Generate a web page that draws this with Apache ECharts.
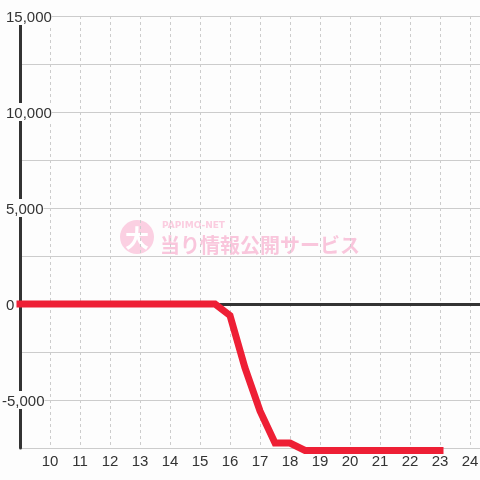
<!DOCTYPE html>
<html>
<head>
<meta charset="utf-8">
<script src="https://cdn.jsdelivr.net/npm/echarts@6/dist/echarts.min.js"></script>
<style>
  html, body { margin: 0; padding: 0; background: #fdfdfd; overflow: hidden; }
  #chart { width: 480px; height: 480px; display: block; }
</style>
</head>
<body>
<div id="chart"></div>
<script>
// 時刻 (30分刻み)
var hours = [9, 9.5, 10, 10.5, 11, 11.5, 12, 12.5, 13, 13.5, 14, 14.5, 15, 15.5,
  16, 16.5, 17, 17.5, 18, 18.5, 19, 19.5, 20, 20.5, 21, 21.5, 22, 22.5, 23]
// 差枚
var values = [0, 0, 0, 0, 0, 0, 0, 0, 0, 0, 0, 0, 0, 0,
  -600, -3330, -5570, -7240, -7240, -7630, -7630, -7630, -7630, -7630, -7630, -7630, -7630, -7630, -7630]
var yLabelStep = 5000
var wmSub = 'PAPIMO-NET'
var wmMain = '当り情報公開サービス'

var chart = echarts.init(document.getElementById('chart'))

var xMin = 9
var xMax = 9 + 460 / 30

chart.setOption({
  backgroundColor: '#fdfdfd',
  animation: false,
  textStyle: { fontFamily: 'Liberation Sans, Arial, sans-serif' },
  grid: { left: 20, right: 0, top: 16, bottom: 32, containLabel: false, outerBoundsMode: 'none' },
  xAxis: [{
    type: 'value',
    min: xMin,
    max: xMax,
    interval: 1,
    axisLine: { show: false, onZero: false },
    axisTick: { show: false },
    axisLabel: {
      color: '#333',
      fontSize: 15,
      margin: 6,
      showMinLabel: false,
      formatter: function (v) {
        return Math.abs(v - Math.round(v)) < 1e-6 ? String(Math.round(v)) : ''
      }
    },
    splitLine: { show: true, lineStyle: { color: '#ccc', type: [3, 3], width: 1 } }
  }, {
    type: 'value',
    min: xMin,
    max: xMax,
    position: 'top',
    axisLine: { show: true, onZero: true, onZeroAxisIndex: 0, lineStyle: { color: '#333', width: 3 } },
    axisTick: { show: false },
    axisLabel: { show: false },
    splitLine: { show: false }
  }],
  yAxis: {
    type: 'value',
    min: -7500,
    max: 15000,
    interval: 2500,
    axisLine: { show: true, onZero: false, lineStyle: { color: '#333', width: 3 } },
    axisTick: { show: false },
    axisLabel: {
      align: 'left',
      margin: 18,
      formatter: function (v) {
        if (v % yLabelStep !== 0) return ''
        var s = echarts.format.addCommas(v)
        return v < 0 ? '{n|' + s + '}' : '{p|' + s + '}'
      },
      rich: {
        p: { color: '#333', fontSize: 15, backgroundColor: '#fdfdfd', padding: [3, 0, 0, 4] },
        n: { color: '#333', fontSize: 15, backgroundColor: '#fdfdfd', padding: [3, 0, 0, 0] }
      }
    },
    splitLine: { show: true, lineStyle: { color: '#ccc', width: 1 } }
  },
  graphic: [{
    type: 'group',
    left: 120,
    top: 220,
    silent: true,
    z: 1,
    children: [{
      type: 'circle',
      shape: { cx: 17, cy: 18, r: 17 },
      style: { fill: '#fbd0e2' }
    }, {
      type: 'text',
      x: 17,
      y: 19,
      style: {
        text: '大', fill: '#fff', font: 'bold 24px "Noto Sans CJK JP"',
        align: 'center', verticalAlign: 'middle'
      }
    }, {
      type: 'text',
      x: 42,
      y: 7,
      style: {
        text: wmSub, fill: '#fbcde0', font: 'bold 9px "DejaVu Sans"',
        align: 'left', verticalAlign: 'middle'
      }
    }, {
      type: 'text',
      x: 40,
      y: 26,
      style: {
        text: wmMain, fill: '#f9c6dc', font: 'bold 20px "Noto Sans CJK JP"',
        align: 'left', verticalAlign: 'middle'
      }
    }]
  }],
  series: [{
    type: 'line',
    xAxisIndex: 0,
    data: hours.map(function (h, i) { return [h, values[i]] }),
    showSymbol: false,
    clip: false,
    z: 5,
    lineStyle: { color: '#ee1f35', width: 7, cap: 'square', join: 'miter' }
  }]
})
</script>
</body>
</html>
